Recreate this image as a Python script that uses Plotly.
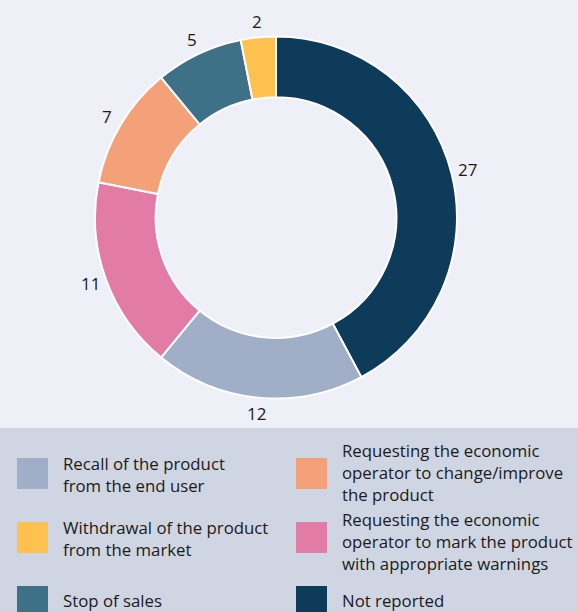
import math
import plotly.graph_objects as go

# ---- data ----
labels = [
    "Not reported",
    "Recall of the product from the end user",
    "Requesting the economic operator to mark the product with appropriate warnings",
    "Requesting the economic operator to change/improve the product",
    "Stop of sales",
    "Withdrawal of the product from the market",
]
values = [27, 12, 11, 7, 5, 2]
colors = ["#0e3b5a", "#a1aec8", "#e27ba6", "#f4a078", "#3e7088", "#fec04e"]

# legend entries (row-major, two columns) with wrapped lines
legend_items = [
    ("Recall of the product from the end user", ["Recall of the product", "from the end user"]),
    ("Requesting the economic operator to change/improve the product",
     ["Requesting the economic", "operator to change/improve", "the product"]),
    ("Withdrawal of the product from the market", ["Withdrawal of the product", "from the market"]),
    ("Requesting the economic operator to mark the product with appropriate warnings",
     ["Requesting the economic", "operator to mark the product", "with appropriate warnings"]),
    ("Stop of sales", ["Stop of sales"]),
    ("Not reported", ["Not reported"]),
]

W, H = 578, 612
FONT = "Open Sans"
BG_TOP = "#eeeff7"
BG_LEG = "#d0d5e3"
TXT = "#1a1a1a"

cx, cy, r = 276, 217.5, 181

fig = go.Figure(go.Pie(
    labels=labels,
    values=values,
    marker=dict(colors=colors, line=dict(color="white", width=2)),
    hole=0.665,
    sort=False,
    direction="clockwise",
    rotation=0,
    textinfo="none",
    showlegend=False,
    hoverinfo="label+value",
    domain=dict(x=[(cx - r) / W, (cx + r) / W], y=[(H - cy - r) / H, (H - cy + r) / H]),
))

annotations = []

# value labels just outside the ring, at each slice's mid-angle (derived from the data)
total = sum(values)
cum = 0
label_r = r + 16
for v in values:
    mid = (cum + v / 2) / total * 2 * math.pi
    cum += v
    lx = cx + label_r * math.sin(mid)
    ly = cy - label_r * math.cos(mid)
    annotations.append(dict(text=str(v), xref="paper", yref="paper",
                            x=lx / W, y=(H - ly) / H, xanchor="center", yanchor="middle",
                            showarrow=False, font=dict(family=FONT, size=17, color=TXT)))

shapes = [dict(type="rect", xref="paper", yref="paper", x0=0, x1=1, y0=0,
               y1=(H - 428) / H, fillcolor=BG_LEG, line=dict(width=0), layer="below")]

col_x = [17, 296]
text_x = [61, 340]
row_top = [458, 522, 586]
# text vertical offset from the swatch centre, per legend item
text_shift = [1, -1, 1, 3.5, -1, -1]
sw = 31

for i, (name, lines) in enumerate(legend_items):
    col = i % 2
    row = i // 2
    color = colors[labels.index(name)]
    x0 = col_x[col]
    y0 = row_top[row]
    shapes.append(dict(type="rect", xref="paper", yref="paper",
                       x0=x0 / W, x1=(x0 + sw) / W,
                       y0=(H - y0 - sw) / H, y1=(H - y0) / H,
                       fillcolor=color, line=dict(width=0)))
    yc = y0 + sw / 2 + text_shift[i]
    annotations.append(dict(text="<br>".join(lines), xref="paper", yref="paper",
                            x=text_x[col] / W, y=(H - yc) / H, align="left",
                            xanchor="left", yanchor="middle", showarrow=False,
                            font=dict(family=FONT, size=16.8, color=TXT)))

fig.update_layout(
    width=W, height=H,
    margin=dict(l=0, r=0, t=0, b=0),
    paper_bgcolor=BG_TOP,
    plot_bgcolor=BG_TOP,
    shapes=shapes,
    annotations=annotations,
)

fig.write_html("out.html", config={"displayModeBar": False},
               post_script="document.body.style.margin='0px';")
